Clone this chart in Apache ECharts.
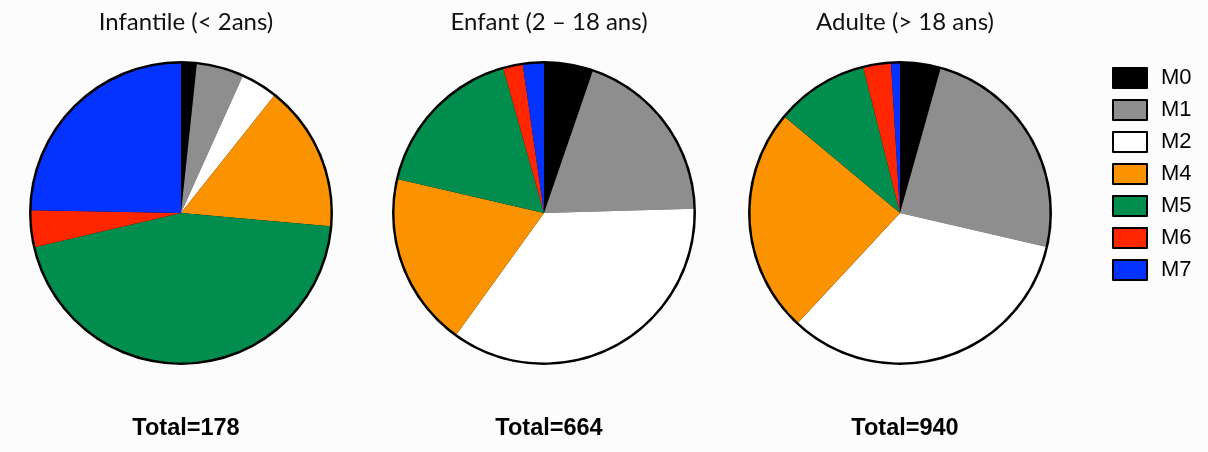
<!DOCTYPE html>
<html>
<head>
<meta charset="utf-8">
<script src="https://cdn.jsdelivr.net/npm/echarts@6/dist/echarts.min.js"></script>
<style>
  html, body { margin: 0; padding: 0; background: #fcfcfc; }
  #chart { width: 1208px; height: 452px; }
</style>
</head>
<body>
<div id="chart"></div>
<script>
const categories = ['M0', 'M1', 'M2', 'M4', 'M5', 'M6', 'M7'];
const colors = ['#000000', '#8e8e8e', '#ffffff', '#fb9200', '#018d4e', '#ff2600', '#0433ff'];

const groups = ['Infantile (< 2ans)', 'Enfant (2 – 18 ans)', 'Adulte (> 18 ans)'];
const infantile = [3, 9, 7, 28, 80, 7, 44];
const enfant = [35, 128, 235, 124, 113, 14, 15];
const adulte = [41, 228, 313, 227, 94, 28, 9];
const groupValues = [infantile, enfant, adulte];

const centersX = [181, 544, 900];
const centerY = 213;

const chart = echarts.init(document.getElementById('chart'));

const series = [];
const titles = [];
groupValues.forEach((vals, i) => {
  const total = vals.reduce((a, b) => a + b, 0);
  // black disc underneath gives the outer ring
  series.push({
    type: 'pie',
    silent: true,
    z: 1,
    center: [centersX[i], centerY],
    radius: 152,
    label: { show: false },
    itemStyle: { color: '#000' },
    data: [{ value: total }]
  });
  series.push({
    type: 'pie',
    z: 2,
    center: [centersX[i], centerY],
    radius: 149.5,
    startAngle: 90,
    clockwise: true,
    label: { show: false },
    labelLine: { show: false },
    itemStyle: { borderWidth: 0 },
    emphasis: { disabled: true },
    data: vals.map((v, k) => ({ name: categories[k], value: v, itemStyle: { color: colors[k] } }))
  });
  titles.push({
    text: groups[i],
    left: centersX[i],
    top: 5,
    textAlign: 'center',
    textStyle: { fontFamily: 'Lato', fontWeight: 'normal', fontSize: 24, color: '#111' }
  });
  titles.push({
    text: 'Total=' + total,
    left: centersX[i],
    top: 412,
    textAlign: 'center',
    textStyle: { fontFamily: 'Liberation Sans', fontWeight: 'bold', fontSize: 23.5, color: '#000' }
  });
});

chart.setOption({
  backgroundColor: '#fcfcfc',
  animation: false,
  title: titles,
  legend: {
    orient: 'vertical',
    left: 1107,
    top: 62,
    icon: 'rect',
    itemWidth: 34,
    itemHeight: 20,
    itemGap: 10,
    data: categories,
    itemStyle: { borderColor: '#000', borderWidth: 2 },
    textStyle: { fontFamily: 'Liberation Sans', fontSize: 22, color: '#000', padding: [0, 0, 0, 9] }
  },
  series: series
});
</script>
</body>
</html>
